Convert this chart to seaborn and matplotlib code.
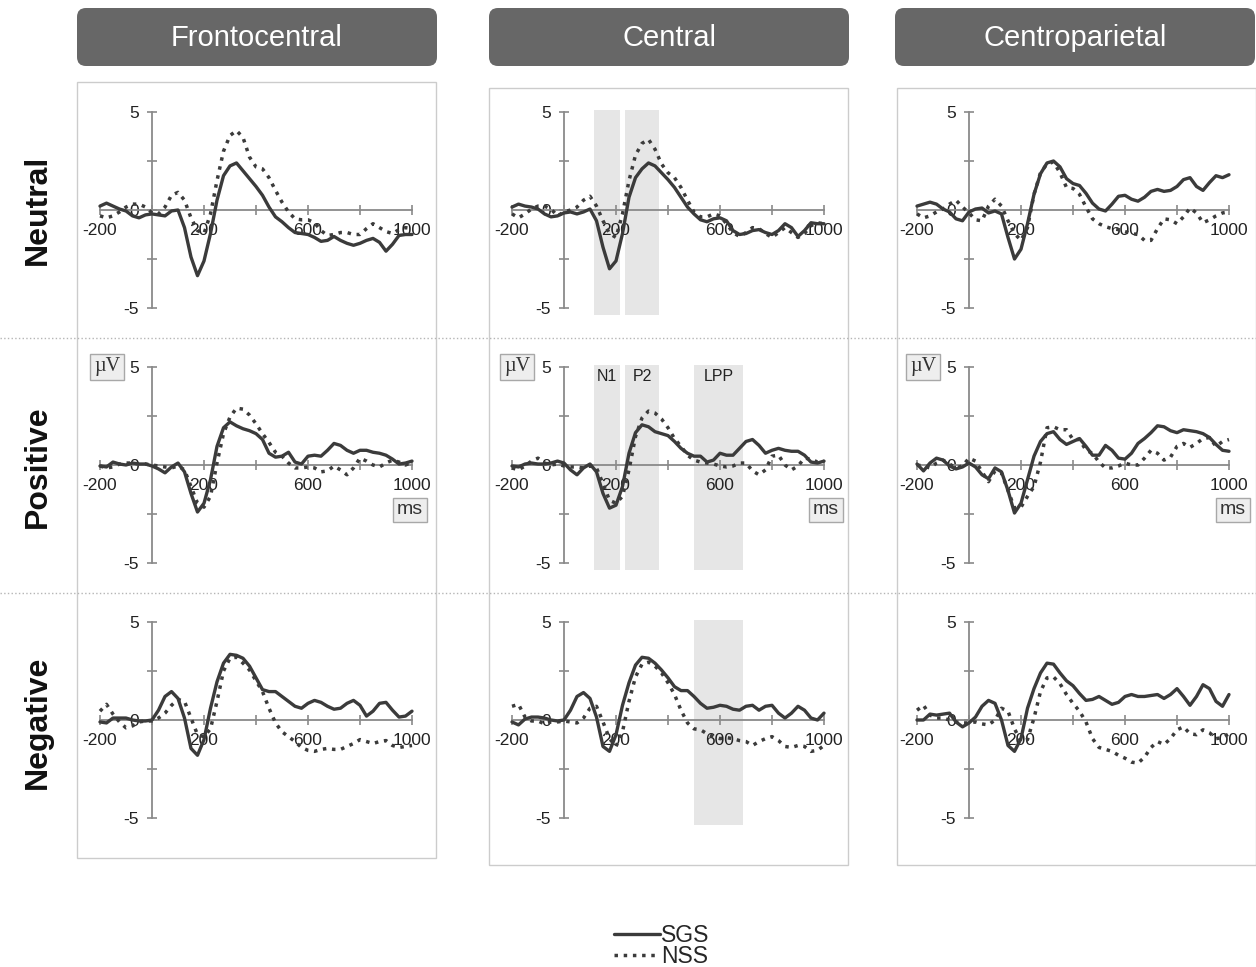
import matplotlib
matplotlib.use("Agg")
import matplotlib.pyplot as plt
from matplotlib.patches import FancyBboxPatch, Rectangle
import numpy as np
import seaborn as sns

sns.set_style("white")
plt.rcParams["font.family"] = ["Liberation Sans", "DejaVu Sans"]

# --------------------------------------------------------------------------- #
# data (µV, sampled every 25 ms from -200 to 1000 ms)
# --------------------------------------------------------------------------- #
TIME = np.arange(-200, 1001, 25)

REGIONS = ["Frontocentral", "Central", "Centroparietal"]
CONDITIONS = ["Neutral", "Positive", "Negative"]
GROUPS = ["SGS", "NSS"]
XTICKS = [-200, 0, 200, 400, 600, 800, 1000]
XTICKLABELS = ["-200", "", "200", "", "600", "", "1000"]
YTICKS = [-5, -2.5, 0, 2.5, 5]
YTICKLABELS = ["-5", "", "0", "", "5"]

# component windows (ms) shown on the central electrode
N1_WIN = (115, 215)
P2_WIN = (235, 365)
LPP_WIN = (500, 690)

NEU_FC_SGS = [0.2, 0.35, 0.2, 0.05, -0.05, -0.3, -0.4, -0.25, -0.2, -0.25,
              -0.3, -0.05, 0.0, -0.9, -2.4, -3.35, -2.6, -1.2, 0.5, 1.75,
              2.25, 2.4, 2.0, 1.6, 1.2, 0.75, 0.15, -0.35, -0.6, -0.9,
              -1.15, -1.2, -1.25, -1.4, -1.6, -1.55, -1.35, -1.55, -1.7, -1.8,
              -1.7, -1.55, -1.45, -1.65, -2.1, -1.75, -1.3, -1.25, -1.25]
NEU_FC_NSS = [-0.3, -0.4, -0.3, -0.1, 0.15, 0.3, 0.3, 0.15, -0.15, -0.2,
              0.15, 0.75, 0.9, 0.5, -0.4, -1.05, -1.2, -0.2, 1.5, 3.0,
              3.8, 4.05, 3.7, 2.7, 2.2, 2.1, 1.65, 1.0, 0.4, -0.1,
              -0.45, -0.5, -0.5, -0.65, -1.05, -1.3, -1.25, -1.15, -1.15, -1.25,
              -1.25, -0.95, -0.7, -0.9, -1.1, -1.2, -1.0, -0.9, -0.95]
NEU_C_SGS = [0.15, 0.3, 0.2, 0.15, 0.05, -0.2, -0.35, -0.3, -0.15, -0.1,
             -0.2, -0.1, 0.05, -0.55, -1.9, -3.0, -2.6, -1.2, 0.65, 1.65,
             2.1, 2.4, 2.25, 1.9, 1.55, 1.15, 0.65, 0.15, -0.2, -0.5,
             -0.6, -0.45, -0.4, -0.55, -1.05, -1.25, -1.2, -1.05, -1.0, -1.15,
             -1.25, -1.05, -0.7, -0.9, -1.35, -1.05, -0.65, -0.7, -0.7]
NEU_C_NSS = [-0.2, -0.4, -0.2, 0.05, 0.2, 0.2, 0.05, -0.3, -0.1, 0.0,
             0.15, 0.5, 0.7, 0.2, -0.55, -1.2, -1.4, -0.2, 1.5, 2.8,
             3.4, 3.6, 3.1, 2.35, 1.9, 1.65, 1.15, 0.5, -0.1, -0.35,
             -0.35, -0.2, -0.3, -0.7, -1.15, -1.35, -1.15, -0.9, -0.95, -1.2,
             -1.4, -1.15, -0.9, -1.15, -1.4, -1.2, -0.8, -0.65, -0.7]
NEU_CP_SGS = [0.2, 0.3, 0.4, 0.3, 0.05, -0.1, -0.45, -0.55, -0.1, 0.05,
              0.1, -0.15, -0.05, -0.2, -1.4, -2.5, -2.0, -0.7, 0.8, 1.85,
              2.4, 2.5, 2.2, 1.6, 1.35, 1.25, 0.85, 0.35, 0.05, -0.05,
              0.3, 0.7, 0.75, 0.55, 0.45, 0.65, 0.95, 1.05, 0.95, 1.0,
              1.2, 1.55, 1.65, 1.2, 1.0, 1.4, 1.75, 1.65, 1.8]
NEU_CP_NSS = [-0.2, -0.4, -0.3, -0.1, 0.05, 0.3, 0.5, 0.15, -0.15, -0.5,
              -0.55, 0.2, 0.55, 0.2, -0.55, -1.2, -1.55, -0.9, 0.8, 1.9,
              2.35, 2.45, 1.9, 1.15, 1.1, 0.8, 0.15, -0.45, -0.7, -0.85,
              -0.95, -1.0, -1.1, -1.2, -1.25, -1.55, -1.55, -0.95, -0.45, -0.5,
              -0.7, -0.35, 0.1, -0.15, -0.65, -0.5, -0.3, -0.15, -0.1]

POS_FC_SGS = [-0.05, -0.1, 0.15, 0.05, 0.0, 0.1, 0.05, 0.05, -0.05, -0.2,
              -0.4, -0.1, 0.1, -0.35, -1.45, -2.4, -1.95, -0.75, 0.95, 1.9,
              2.2, 2.0, 1.85, 1.75, 1.6, 1.3, 0.6, 0.4, 0.45, 0.65,
              0.15, 0.05, 0.45, 0.5, 0.45, 0.75, 1.1, 1.0, 0.75, 0.6,
              0.75, 0.75, 0.65, 0.6, 0.5, 0.3, 0.05, 0.1, 0.2]
POS_FC_NSS = [-0.05, -0.15, -0.1, 0.05, 0.1, 0.1, 0.05, 0.05, 0.0, -0.05,
              -0.1, -0.15, -0.05, -0.25, -1.1, -1.95, -2.15, -1.6, 0.1, 1.6,
              2.45, 2.9, 2.85, 2.55, 2.1, 1.6, 1.15, 0.65, 0.45, 0.1,
              -0.15, -0.15, -0.1, -0.15, -0.35, -0.3, -0.05, -0.25, -0.5, -0.15,
              0.35, 0.2, 0.0, -0.1, 0.1, 0.25, 0.15, 0.0, 0.15]
POS_C_SGS = [-0.05, -0.1, 0.05, 0.1, 0.05, 0.05, 0.1, 0.2, 0.1, -0.25,
             -0.5, -0.15, 0.05, -0.35, -1.45, -2.2, -2.05, -1.1, 0.6, 1.65,
             2.05, 1.95, 1.7, 1.6, 1.5, 1.2, 0.85, 0.6, 0.45, 0.45,
             0.15, 0.25, 0.6, 0.5, 0.5, 0.85, 1.2, 1.3, 1.0, 0.6,
             0.75, 0.85, 0.75, 0.7, 0.7, 0.5, 0.15, 0.1, 0.2]
POS_C_NSS = [-0.15, -0.25, -0.05, 0.2, 0.35, 0.1, 0.0, 0.05, -0.05, -0.1,
             -0.1, -0.15, -0.05, -0.15, -0.95, -1.8, -1.95, -1.6, -0.25, 1.45,
             2.4, 2.75, 2.65, 2.35, 1.9, 1.35, 0.95, 0.5, 0.25, 0.15,
             0.1, 0.05, -0.05, -0.1, -0.05, 0.1, 0.1, -0.3, -0.5, -0.25,
             0.45, 0.5, 0.0, -0.25, -0.05, 0.35, 0.3, 0.15, 0.2]
POS_CP_SGS = [0.05, -0.3, 0.1, 0.35, 0.25, -0.05, -0.2, -0.1, 0.1, -0.1,
              -0.5, -0.7, -0.15, -0.35, -1.3, -2.45, -1.95, -0.75, 0.45, 1.2,
              1.6, 1.7, 1.3, 1.05, 1.2, 1.35, 0.95, 0.5, 0.5, 1.0,
              0.75, 0.35, 0.3, 0.6, 1.1, 1.35, 1.65, 2.0, 1.95, 1.75,
              1.65, 1.8, 1.75, 1.7, 1.6, 1.4, 1.05, 0.75, 0.7]
POS_CP_NSS = [0.0, -0.05, -0.15, 0.1, 0.25, 0.05, -0.15, -0.05, 0.35, 0.2,
              -0.35, -0.85, -0.3, -0.4, -1.3, -2.2, -2.15, -1.6, -1.1, 0.15,
              1.9, 1.95, 1.8, 1.8, 1.3, 1.3, 0.75, 0.6, 0.15, -0.15,
              -0.15, -0.05, 0.1, 0.0, 0.0, 0.35, 0.75, 0.6, 0.25, 0.4,
              0.95, 1.1, 0.9, 1.1, 1.35, 1.4, 0.95, 1.2, 1.3]

NEG_FC_SGS = [-0.1, -0.15, 0.1, 0.1, 0.1, 0.0, -0.05, -0.05, 0.0, 0.5,
              1.2, 1.45, 1.1, 0.1, -1.45, -1.8, -1.0, 0.6, 1.95, 2.9,
              3.35, 3.3, 3.15, 2.75, 2.15, 1.55, 1.45, 1.45, 1.2, 0.95,
              0.7, 0.6, 0.85, 1.0, 0.9, 0.7, 0.55, 0.6, 0.85, 1.0,
              0.75, 0.2, 0.45, 0.85, 0.9, 0.5, 0.15, 0.2, 0.45]
NEG_FC_NSS = [0.45, 0.8, 0.3, -0.1, -0.4, -0.3, -0.1, -0.05, -0.05, 0.1,
              0.35, 0.75, 1.05, 0.95, 0.1, -0.75, -0.85, -0.45, 0.95, 2.5,
              3.15, 3.2, 2.9, 2.55, 2.0, 1.45, 0.6, -0.15, -0.6, -0.85,
              -1.1, -1.4, -1.55, -1.6, -1.5, -1.45, -1.5, -1.5, -1.35, -1.2,
              -1.0, -1.1, -1.2, -1.1, -1.05, -1.3, -1.4, -1.35, -1.3]
NEG_C_SGS = [-0.1, -0.25, 0.05, 0.15, 0.15, 0.1, 0.0, -0.05, 0.0, 0.5,
             1.2, 1.4, 1.1, 0.15, -1.35, -1.6, -0.75, 0.75, 1.9, 2.8,
             3.2, 3.15, 2.9, 2.55, 2.15, 1.7, 1.5, 1.5, 1.2, 0.85,
             0.6, 0.65, 0.75, 0.7, 0.55, 0.5, 0.7, 0.75, 0.5, 0.7,
             0.75, 0.35, 0.1, 0.35, 0.7, 0.5, 0.1, 0.0, 0.35]
NEG_C_NSS = [0.7, 0.8, 0.15, -0.05, -0.05, -0.2, -0.1, -0.1, -0.05, -0.1,
             -0.15, 0.1, 0.6, 0.7, -0.1, -0.95, -1.35, -0.6, 0.95, 2.2,
             2.85, 2.95, 2.75, 2.4, 1.9, 1.3, 0.5, -0.15, -0.45, -0.5,
             -0.7, -0.85, -0.95, -0.9, -0.95, -1.05, -1.1, -1.3, -1.1, -0.95,
             -0.85, -1.05, -1.35, -1.4, -1.3, -1.35, -1.6, -1.55, -1.3]
NEG_CP_SGS = [0.0, 0.0, 0.3, 0.25, 0.3, 0.35, -0.1, -0.35, -0.15, 0.15,
              0.7, 1.0, 0.85, 0.0, -1.3, -1.6, -0.95, 0.6, 1.6, 2.4,
              2.9, 2.85, 2.4, 2.0, 1.75, 1.35, 1.0, 1.05, 1.2, 1.0,
              0.8, 0.9, 1.2, 1.3, 1.2, 1.2, 1.25, 1.3, 1.1, 1.3,
              1.6, 1.2, 0.75, 1.2, 1.8, 1.6, 0.95, 0.7, 1.3]
NEG_CP_NSS = [0.5, 0.75, 0.25, 0.1, 0.1, 0.0, -0.1, -0.15, -0.15, -0.1,
              -0.2, -0.25, 0.0, 0.6, 0.45, -0.45, -1.1, -1.0, 0.1, 1.45,
              2.15, 2.2, 1.85, 1.3, 0.85, 0.45, -0.1, -0.95, -1.4, -1.5,
              -1.6, -1.8, -1.95, -2.15, -2.2, -1.9, -1.4, -1.1, -1.25, -0.95,
              -0.5, -0.35, -0.7, -0.75, -0.5, -0.65, -0.95, -0.9, -0.7]

WAVES = [
    [(NEU_FC_SGS, NEU_FC_NSS), (NEU_C_SGS, NEU_C_NSS), (NEU_CP_SGS, NEU_CP_NSS)],
    [(POS_FC_SGS, POS_FC_NSS), (POS_C_SGS, POS_C_NSS), (POS_CP_SGS, POS_CP_NSS)],
    [(NEG_FC_SGS, NEG_FC_NSS), (NEG_C_SGS, NEG_C_NSS), (NEG_CP_SGS, NEG_CP_NSS)],
]
# shaded windows on the central column, per condition row
WINDOWS = [[N1_WIN, P2_WIN], [N1_WIN, P2_WIN, LPP_WIN], [LPP_WIN]]

# --------------------------------------------------------------------------- #
# layout (pixels)
# --------------------------------------------------------------------------- #
W, H = 1256, 967
COL_LEFT = [100, 512, 917]          # pixel of -200 ms
COL_W = 312                         # -200 .. 1000 ms
ROW_ZERO = [210, 465, 720]          # pixel of 0 µV
PX_PER_UV = 19.6
YLIM = (-5.5, 5.5)

LINE_COLOR = "#3b3b3b"
AXIS_COLOR = "#8a8a8a"
SHADE = "#e6e6e6"
HEADER_BG = "#676767"

fig = plt.figure(figsize=(W / 100, H / 100), dpi=100)

bg = fig.add_axes([0, 0, 1, 1], zorder=0)
bg.set_xlim(0, W)
bg.set_ylim(H, 0)
bg.axis("off")

# column frames
for x0, y0, y1 in [(77, 82, 858), (489, 88, 865), (897, 88, 865)]:
    bg.add_patch(Rectangle((x0, y0), 359, y1 - y0, fill=False,
                           ec="#cccccc", lw=1.0))
# dotted row separators
for yy in [338, 593]:
    bg.plot([0, W], [yy, yy], ls=":", color="#b5b5b5", lw=1.0)

# header tabs
for x0, name in zip([77, 489, 895], REGIONS):
    bg.add_patch(FancyBboxPatch((x0, 8), 360, 58,
                                boxstyle="round,pad=0,rounding_size=9",
                                fc=HEADER_BG, ec="none"))
    bg.text(x0 + 180, 38, name, color="white", fontsize=21,
            ha="center", va="center")

# row labels
for yc, cond in zip([210, 467, 722], CONDITIONS):
    bg.text(38, yc, cond, rotation=90, fontsize=23, fontweight="bold",
            ha="center", va="center", color="#111111")

# unit boxes in the middle row
box = dict(boxstyle="square,pad=0.18", fc="#eeeeee", ec="#a8a8a8", lw=1.0)
for xu, xm in [(107, 410), (517, 826), (923, 1233)]:
    bg.text(xu, 367, "µV", family=["Liberation Serif", "DejaVu Serif"],
            fontsize=14.5, ha="center", va="center", color="#333333", bbox=box)
    bg.text(xm, 510, "ms", fontsize=14, ha="center", va="center",
            color="#333333", bbox=box)

# --------------------------------------------------------------------------- #
# ERP panels
# --------------------------------------------------------------------------- #
span = (YLIM[1] - YLIM[0]) * PX_PER_UV
for r in range(3):
    for c in range(3):
        left = COL_LEFT[c] / W
        bottom = 1 - (ROW_ZERO[r] + span / 2) / H
        ax = fig.add_axes([left, bottom, COL_W / W, span / H], zorder=2)
        ax.patch.set_alpha(0)
        ax.set_xlim(-200, 1000)
        ax.set_ylim(*YLIM)

        if c == 1:
            for x0, x1 in WINDOWS[r]:
                ax.fill_between([x0, x1], -5.35, 5.1, color=SHADE, lw=0,
                                zorder=0)
            if r == 1:
                for xt, lab in [(sum(N1_WIN) / 2, "N1"), (sum(P2_WIN) / 2, "P2"),
                                (sum(LPP_WIN) / 2, "LPP")]:
                    ax.text(xt, 4.5, lab, fontsize=11.5, ha="center",
                            va="center", color="#222222")

        sgs, nss = WAVES[r][c]
        sns.lineplot(x=TIME, y=sgs, ax=ax, color=LINE_COLOR, lw=2.4,
                     legend=False, clip_on=False, label="SGS", zorder=3)
        sns.lineplot(x=TIME, y=nss, ax=ax, color=LINE_COLOR, lw=2.5,
                     ls=":", legend=False, clip_on=False, label="NSS",
                     zorder=3)
        ax.set_xlabel("")
        ax.set_ylabel("")

        for side in ["top", "right"]:
            ax.spines[side].set_visible(False)
        ax.spines["left"].set_position(("data", 0))
        ax.spines["bottom"].set_position(("data", 0))
        ax.spines["left"].set_bounds(-5, 5)
        ax.spines["bottom"].set_bounds(-200, 1000)
        for side in ["left", "bottom"]:
            ax.spines[side].set_color(AXIS_COLOR)
            ax.spines[side].set_linewidth(1.3)
            ax.spines[side].set_zorder(2)

        ax.set_xticks(XTICKS)
        ax.set_xticklabels(XTICKLABELS)
        ax.set_yticks(YTICKS)
        ax.set_yticklabels(YTICKLABELS)
        ax.tick_params(axis="both", direction="inout", length=7, width=1.2,
                       color=AXIS_COLOR, labelsize=12.5, labelcolor="#222222",
                       bottom=True, left=True, pad=6)

handles = ax.lines[-2:]
fig.legend(handles, GROUPS, loc="center", bbox_to_anchor=(662 / W, 1 - 946 / H),
           frameon=False, fontsize=16.5, handlelength=2.0, handletextpad=0.05,
           labelspacing=-0.1, borderpad=0)

fig.savefig("out.png", dpi=100)
